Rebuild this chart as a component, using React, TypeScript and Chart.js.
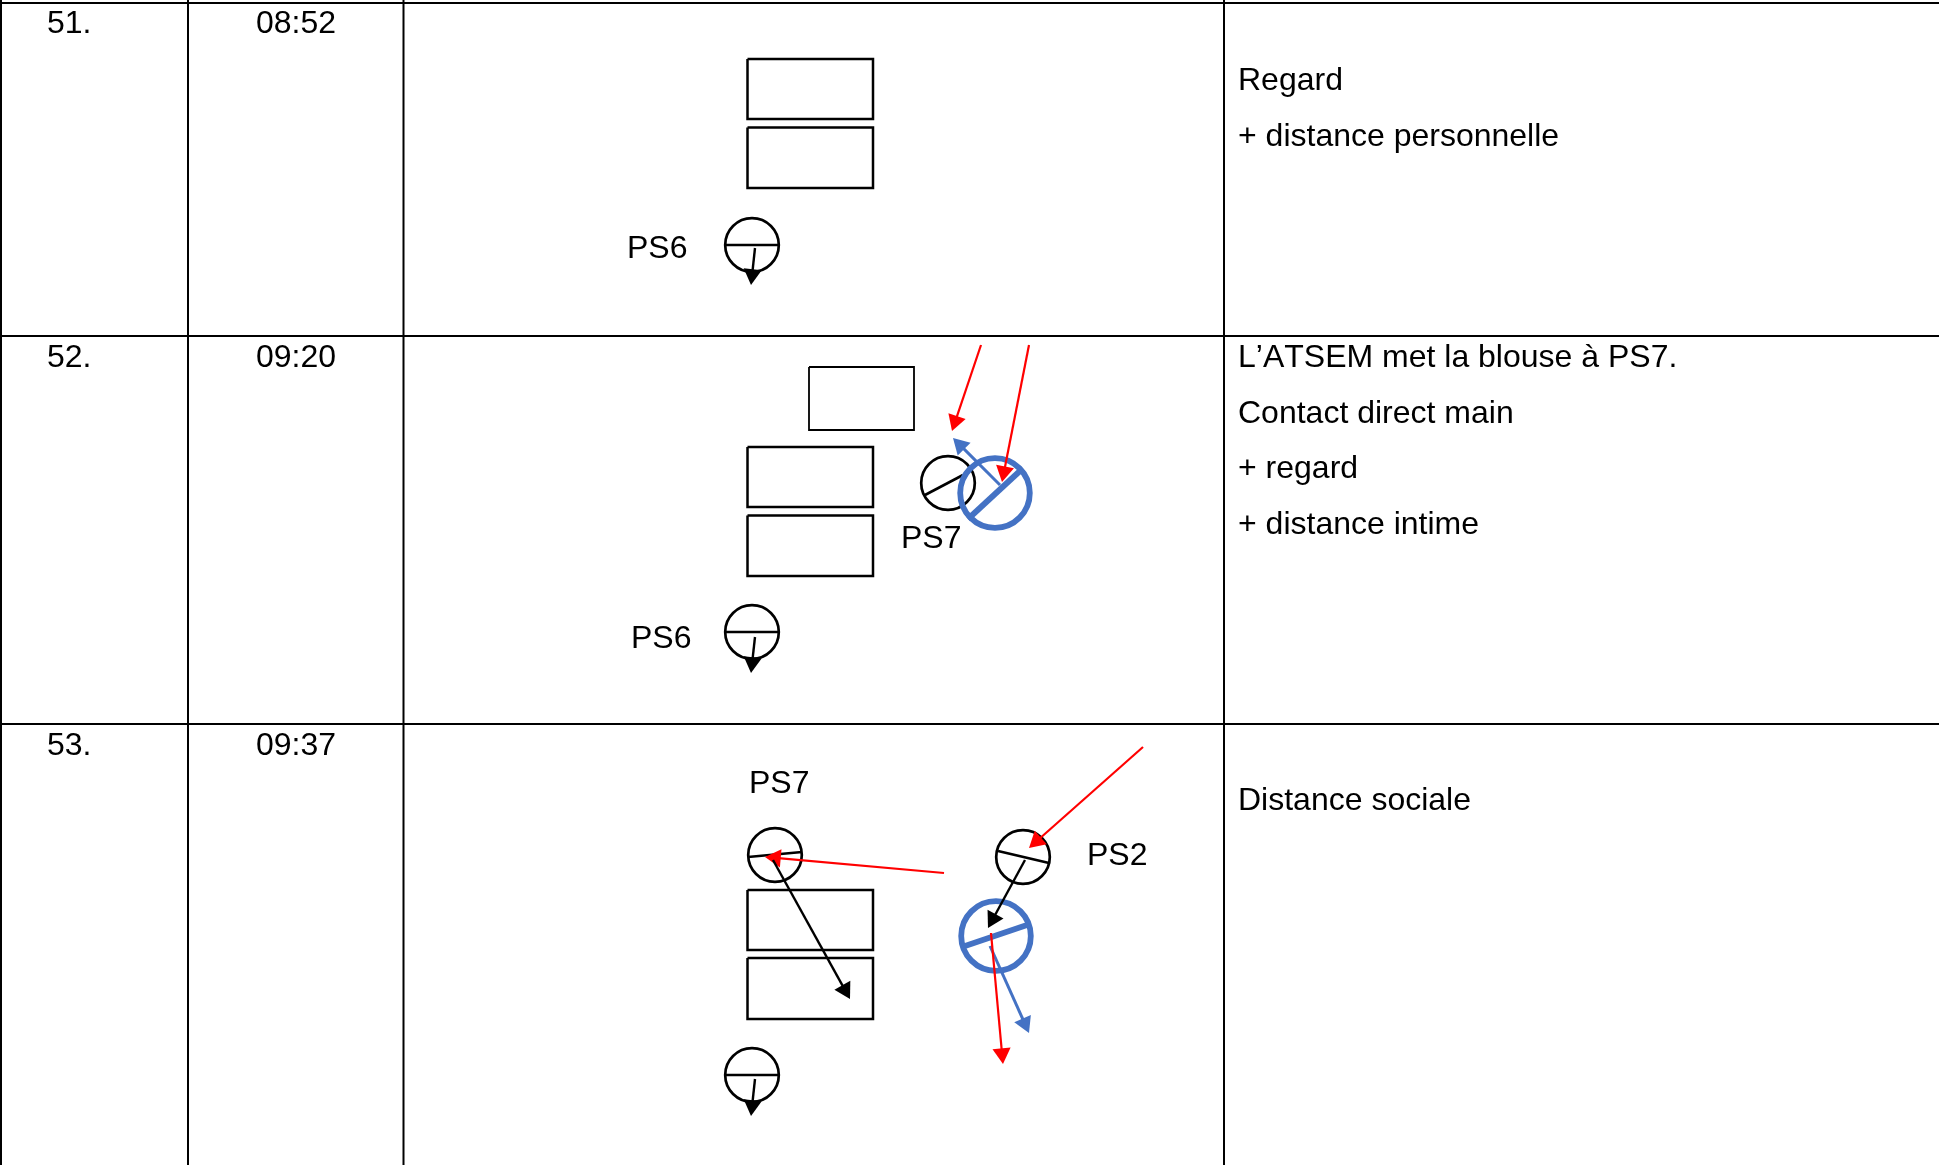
import React, { useEffect, useRef } from "react";
import { Chart, registerables } from "chart.js";

Chart.register(...registerables);

type P = [number, number];

const BLACK = "#000000";
const RED = "#FF0000";
const BLUE = "#4472C4";
const FONT = '32px "Liberation Sans", Arial, sans-serif';

// Table rules
const tableRules: P[][] = [
  [[0, 3], [1939, 3]],
  [[0, 336], [1939, 336]],
  [[0, 724], [1939, 724]],
  [[1, 0], [1, 1165]],
  [[188, 0], [188, 1165]],
  [[403.5, 0], [403.5, 1165]],
  [[1224, 0], [1224, 1165]],
];

// Furniture: [left, top, right, bottom]
const desks: number[][] = [
  [747.5, 59, 873, 119],
  [747.5, 127.5, 873, 188],
  [809, 367, 914, 430],
  [747.5, 447, 873, 507],
  [747.5, 515.5, 873, 576],
  [747.5, 890, 873, 950],
  [747.5, 958, 873, 1019],
];

// People
const blackHeads: P[] = [[752, 245], [752, 632], [948, 483], [775, 855], [1023, 857], [752, 1075]];
const blackShoulders: P[][] = [
  [[725, 245], [779, 245]],
  [[725, 632], [779, 632]],
  [[925, 495], [963, 475]],
  [[748, 857], [802, 852]],
  [[998, 851], [1049, 863]],
  [[725, 1075], [779, 1075]],
];
const blueHeads: P[] = [[995, 493], [996, 936]];
const blueShoulders: P[][] = [
  [[968, 519], [1021, 470]],
  [[965, 946], [1027, 925]],
];

// Arrows: tail -> tip
const blackArrows: P[][] = [
  [[755, 248], [751, 285]],
  [[755, 637], [751, 673]],
  [[755, 1079], [751, 1116]],
  [[773, 860], [850, 999]],
  [[1025, 860], [988, 928]],
];
const redArrows: P[][] = [
  [[981, 345], [952, 431]],
  [[1029, 345], [1002, 482]],
  [[944, 873], [765, 857]],
  [[1143, 747], [1029, 848]],
  [[991, 933], [1003, 1064]],
];
const blueArrows: P[][] = [
  [[1000, 485], [953, 438]],
  [[990, 946], [1029, 1033]],
];

// Text
const texts: [string, number, number][] = [
  ["51.", 47, 33],
  ["08:52", 256, 33],
  ["52.", 47, 367],
  ["09:20", 256, 367],
  ["53.", 47, 755],
  ["09:37", 256, 755],
  ["Regard", 1238, 90],
  ["+ distance personnelle", 1238, 146],
  ["L’ATSEM met la blouse à PS7.", 1238, 367],
  ["Contact direct main", 1238, 423],
  ["+ regard", 1238, 478],
  ["+ distance intime", 1238, 534],
  ["Distance sociale", 1238, 810],
  ["PS6", 627, 258],
  ["PS6", 631, 648],
  ["PS7", 901, 548],
  ["PS7", 749, 793],
  ["PS2", 1087, 865],
];

const xy = (p: P) => ({ x: p[0], y: p[1] });

const polyline = (pts: P[], color: string, width: number) => ({
  type: "scatter" as const,
  data: pts.map(xy),
  showLine: true,
  borderColor: color,
  borderWidth: width,
  borderJoinStyle: "miter" as const,
  pointRadius: 0,
  tension: 0,
  clip: false,
});

const rectangle = (r: number[]) =>
  polyline(
    [[r[0], r[1]], [r[2], r[1]], [r[2], r[3]], [r[0], r[3]], [r[0], r[1]]],
    BLACK,
    r[2] - r[0] < 110 ? 1.8 : 2.5
  );

const ring = (c: P, radius: number, color: string, width: number) => ({
  type: "scatter" as const,
  data: [xy(c)],
  showLine: false,
  pointStyle: "circle",
  pointRadius: radius,
  pointBorderWidth: width,
  pointBorderColor: color,
  pointBackgroundColor: "rgba(0,0,0,0)",
  clip: false,
});

const HEAD = 10.5;
const arrow = (a: P[], color: string, width: number) => {
  const [t, h] = a;
  const dx = h[0] - t[0];
  const dy = h[1] - t[1];
  const len = Math.hypot(dx, dy);
  const neck: P = [h[0] - (dx / len) * HEAD, h[1] - (dy / len) * HEAD];
  return {
    type: "scatter" as const,
    data: [xy(t), xy(neck)],
    showLine: true,
    borderColor: color,
    borderWidth: width,
    tension: 0,
    pointStyle: "triangle",
    pointRadius: [0, HEAD],
    pointRotation: (Math.atan2(dx, -dy) * 180) / Math.PI,
    pointBackgroundColor: color,
    pointBorderColor: color,
    pointBorderWidth: 0,
    clip: false,
  };
};

const labelPlugin = {
  id: "tableText",
  afterDatasetsDraw(chart: any) {
    const { ctx, scales } = chart;
    ctx.save();
    ctx.font = FONT;
    ctx.fontKerning = "none";
    ctx.fillStyle = BLACK;
    ctx.textAlign = "left";
    ctx.textBaseline = "alphabetic";
    for (const [s, x, y] of texts) {
      ctx.fillText(s, scales.x.getPixelForValue(x), scales.y.getPixelForValue(y));
    }
    ctx.restore();
  },
};

export default function App() {
  const ref = useRef<HTMLCanvasElement>(null);
  useEffect(() => {
    if (!ref.current) return;
    // listed in paint order, bottom first
    const paint: any[] = [
      ...tableRules.map((l) => polyline(l, BLACK, 2)),
      ...desks.map(rectangle),
      ...blackHeads.map((c) => ring(c, 26.8, BLACK, 2.7)),
      ...blackShoulders.map((l) => polyline(l, BLACK, 2.6)),
      ...blueHeads.map((c) => ring(c, 34.8, BLUE, 5.8)),
      ...blueShoulders.map((l) => polyline(l, BLUE, 5.8)),
      ...blueArrows.map((a) => arrow(a, BLUE, 3)),
      ...redArrows.map((a) => arrow(a, RED, 2.2)),
      ...blackArrows.map((a) => arrow(a, BLACK, 2.4)),
    ];
    const chart = new Chart(ref.current, {
      type: "scatter",
      data: { datasets: paint.reverse() },
      options: {
        animation: false,
        responsive: false,
        layout: { padding: 0, autoPadding: false },
        events: [],
        plugins: { legend: { display: false }, tooltip: { enabled: false }, title: { display: false } },
        scales: {
          x: { type: "linear", min: 0, max: 1939, display: false },
          y: { type: "linear", min: 0, max: 1165, reverse: true, display: false },
        },
      },
      plugins: [labelPlugin],
    } as any);
    return () => chart.destroy();
  }, []);
  return (
    <canvas
      ref={ref}
      width={1939}
      height={1165}
      style={{ position: "absolute", left: 0, top: 0, width: 1939, height: 1165, background: "#fff", display: "block" }}
    />
  );
}
